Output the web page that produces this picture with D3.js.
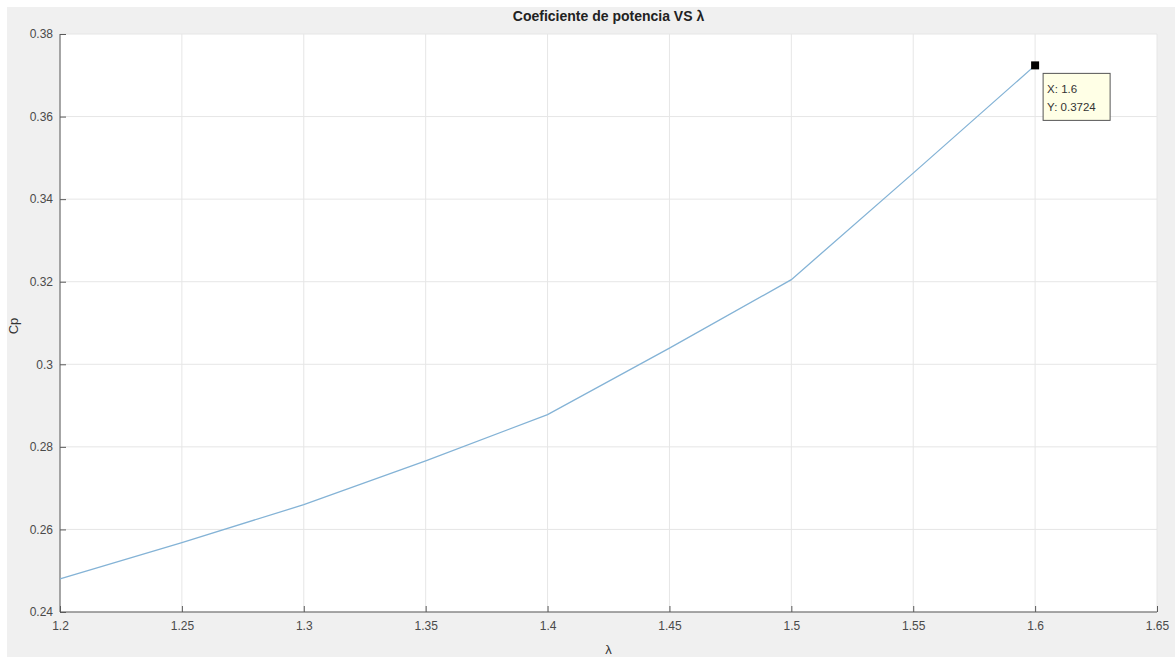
<!DOCTYPE html>
<html>
<head>
<meta charset="utf-8">
<script src="https://cdn.jsdelivr.net/npm/d3@7"></script>
<style>
  body { margin: 0; background: #fff; }
  svg text { font-family: "Liberation Sans", Arial, sans-serif; }
</style>
</head>
<body>
<div id="chart"></div>
<script>
var lambdaVals = [1.2, 1.25, 1.3, 1.35, 1.4, 1.45, 1.5, 1.55, 1.6];
var cpVals = [0.248, 0.2568, 0.266, 0.2766, 0.2878, 0.3039, 0.3205, 0.3463, 0.3724];
var xTicks = [1.2, 1.25, 1.3, 1.35, 1.4, 1.45, 1.5, 1.55, 1.6, 1.65];
var yTicks = [0.24, 0.26, 0.28, 0.3, 0.32, 0.34, 0.36, 0.38];
var tipX = 1.6, tipY = 0.3724;

var width = 1175, height = 657;
var margin = {left: 60, right: 18, top: 34, bottom: 45};

var svg = d3.select("#chart").append("svg")
    .attr("width", width)
    .attr("height", height);

// figure background (gray with a thin white border top/left)
svg.append("rect").attr("x", 7).attr("y", 7)
    .attr("width", width - 7).attr("height", height - 7)
    .attr("fill", "#f0f0f0");

var x = d3.scaleLinear().domain([1.2, 1.65]).range([margin.left, width - margin.right]);
var y = d3.scaleLinear().domain([0.24, 0.38]).range([height - margin.bottom, margin.top]);

svg.append("rect")
    .attr("x", x(1.2)).attr("y", y(0.38))
    .attr("width", x(1.65) - x(1.2)).attr("height", y(0.24) - y(0.38))
    .attr("fill", "#fff");

// grid
var grid = svg.append("g");
grid.selectAll(".gx").data(xTicks).enter().append("line")
    .attr("x1", d => x(d)).attr("x2", d => x(d))
    .attr("y1", y(0.24)).attr("y2", y(0.38))
    .attr("stroke", "#e6e6e6").attr("stroke-width", 1);
grid.selectAll(".gy").data(yTicks).enter().append("line")
    .attr("x1", x(1.2)).attr("x2", x(1.65))
    .attr("y1", d => y(d)).attr("y2", d => y(d))
    .attr("stroke", "#e6e6e6").attr("stroke-width", 1);

// axes (ticks point inward, MATLAB style)
var xAxis = d3.axisBottom(x).tickValues(xTicks).tickSize(-6).tickPadding(9)
    .tickFormat(d3.format("~g"));
var yAxis = d3.axisLeft(y).tickValues(yTicks).tickSize(-6).tickPadding(7)
    .tickFormat(d3.format("~g"));

var gx = svg.append("g").attr("transform", "translate(0," + y(0.24) + ")").call(xAxis);
var gy = svg.append("g").attr("transform", "translate(" + x(1.2) + ",0)").call(yAxis);
[gx, gy].forEach(function(g) {
    g.select(".domain").attr("stroke", "#5a5a5a");
    g.selectAll(".tick line").attr("stroke", "#5a5a5a");
    g.selectAll(".tick text").attr("fill", "#4a4a4a").style("font-size", "12px");
});
gx.select(".domain").attr("d", "M" + x(1.2) + ",0H" + x(1.65));
gy.select(".domain").attr("d", "M0," + y(0.24) + "V" + y(0.38));

// line
var line = d3.line().x((d, i) => x(lambdaVals[i])).y(d => y(d));
svg.append("path")
    .datum(cpVals)
    .attr("fill", "none")
    .attr("stroke", "#84b3d6")
    .attr("stroke-width", 1.3)
    .attr("d", line);

// title and labels
svg.append("text")
    .attr("x", (x(1.2) + x(1.65)) / 2).attr("y", 21)
    .attr("text-anchor", "middle")
    .style("font-size", "14px").style("font-weight", "bold")
    .attr("fill", "#222")
    .text("Coeficiente de potencia VS λ");
svg.append("text")
    .attr("x", (x(1.2) + x(1.65)) / 2).attr("y", 654)
    .attr("text-anchor", "middle")
    .style("font-size", "13px").attr("fill", "#333")
    .text("λ");
svg.append("text")
    .attr("transform", "translate(18,326) rotate(-90)")
    .attr("text-anchor", "middle")
    .style("font-size", "13px").attr("fill", "#333")
    .text("Cp");

// data tip
var tx = x(tipX), ty = y(tipY);
svg.append("rect")
    .attr("x", tx - 4).attr("y", ty - 4).attr("width", 8).attr("height", 8)
    .attr("fill", "#000");
var tip = svg.append("g").attr("transform", "translate(" + (tx + 8) + "," + (ty + 8) + ")");
tip.append("rect")
    .attr("width", 67).attr("height", 47)
    .attr("fill", "#ffffe6").attr("stroke", "#555").attr("stroke-width", 1);
tip.append("text").attr("x", 4).attr("y", 20)
    .style("font-size", "11.5px").attr("fill", "#333").text("X: " + tipX);
tip.append("text").attr("x", 4).attr("y", 38)
    .style("font-size", "11.5px").attr("fill", "#333").text("Y: " + tipY);
</script>
</body>
</html>
